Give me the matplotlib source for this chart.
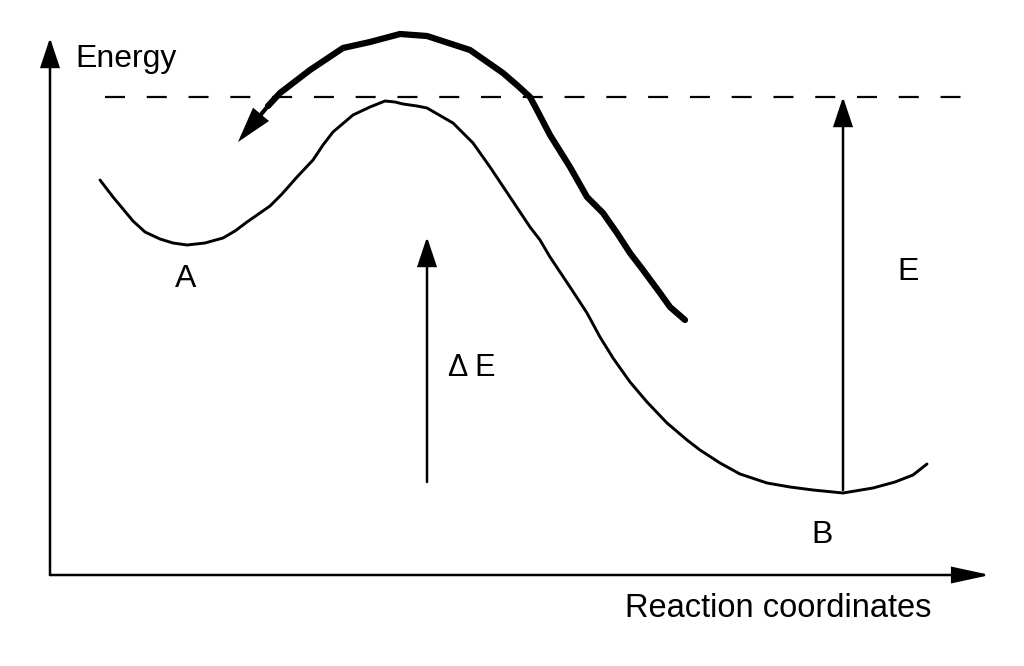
import matplotlib
matplotlib.use("Agg")
import matplotlib.pyplot as plt
from matplotlib.patches import FancyArrowPatch

# ---- data (schematic, in image pixel units) ----
curve_x = [100, 113, 133, 145, 160, 173, 187, 205, 223, 235, 247, 270, 282, 297, 313, 323,
           333, 353, 370, 385, 395, 403, 417, 427, 453, 473, 490, 510, 530, 540, 550, 570,
           587, 600, 613, 630, 647, 667, 687, 700, 720, 740, 767, 790, 813, 843, 873, 895,
           913, 927]
curve_y = [180, 197, 221, 232, 239, 243, 245, 243, 238, 231, 222, 206, 194, 177, 160, 145,
           132, 115, 107, 101, 102, 104, 106, 108, 123, 143, 167, 197, 227, 240, 257, 287,
           313, 337, 358, 382, 402, 423, 440, 450, 463, 474, 483, 487, 490, 493, 488, 482,
           475, 464]

thick_x = [685, 670, 660, 643, 630, 617, 603, 587, 570, 550, 538, 530, 518, 503, 470, 427,
           400, 370, 343, 310, 280, 268]
thick_y = [320, 307, 293, 270, 253, 233, 213, 197, 167, 135, 112, 97, 86, 73, 50, 36,
           34, 42, 48, 70, 93, 106]
thick_head = [(268, 106), (238, 142)]

dash_level = 97
dash_x = [105, 970]

y_axis = [(50, 575), (50, 38)]
x_axis = [(50, 575), (990, 575)]
e_arrow = [(843, 490), (843, 97)]
de_arrow = [(427, 482), (427, 237)]

labels = {
    "Energy": (75, 67, "left", 23),
    "Reaction coordinates": (625, 617, "left", 23.5),
    "A": (186, 287, "center", 23),
    "B": (822, 543, "center", 23),
    "E": (908, 280, "center", 23),
    "\u0394 E": (472, 376, "center", 22),
}

# ---- figure ----
fig = plt.figure(figsize=(10.24, 6.66), dpi=100)
ax = fig.add_axes([0, 0, 1, 1])
ax.set_xlim(0, 1024)
ax.set_ylim(666, 0)
ax.axis("off")

ax.plot(curve_x, curve_y, color="black", lw=2.1, solid_capstyle="round",
        solid_joinstyle="round")
ax.plot(thick_x, thick_y, color="black", lw=4.5, solid_capstyle="round",
        solid_joinstyle="round")
ax.plot(dash_x, [dash_level, dash_level], color="black", lw=1.6,
        linestyle=(0, (9.0, 9.8)))


def arrow(p0, p1, lw, hl, hw):
    a = FancyArrowPatch(p0, p1, arrowstyle=f"-|>,head_length={hl},head_width={hw}",
                        mutation_scale=1, lw=lw, color="black",
                        shrinkA=0, shrinkB=0, joinstyle="miter")
    ax.add_patch(a)


arrow(*y_axis, lw=1.8, hl=18, hw=6)
arrow(*x_axis, lw=1.8, hl=23, hw=5)
arrow(*e_arrow, lw=1.8, hl=18, hw=6)
arrow(*de_arrow, lw=1.8, hl=18, hw=6)
arrow(*thick_head, lw=3.0, hl=19, hw=5.5)

for txt, (x, y, ha, fs) in labels.items():
    ax.text(x, y, txt, ha=ha, va="baseline", fontsize=fs,
            family=["Liberation Sans", "DejaVu Sans"])

fig.savefig("out.png", dpi=100)
